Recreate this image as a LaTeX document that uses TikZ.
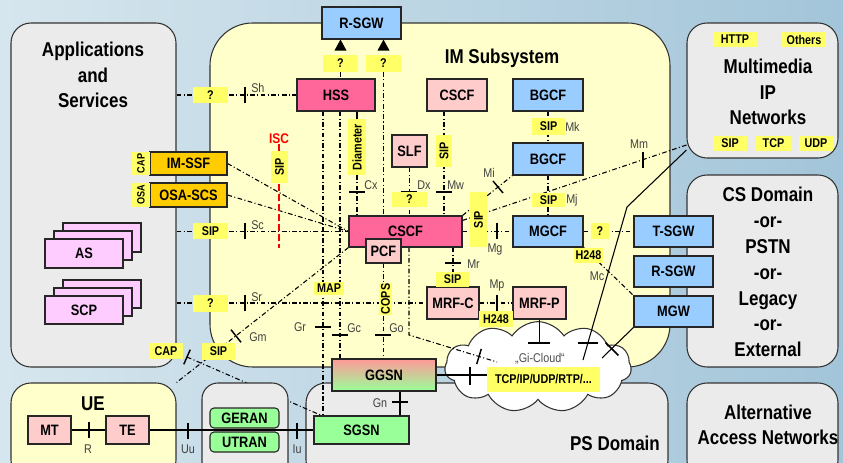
\documentclass[tikz,border=0pt]{standalone}
\usepackage{fontspec}
\usepackage{graphicx}
\setmainfont{Liberation Sans}[FakeStretch=0.85]
\usetikzlibrary{fit,calc,shapes.symbols}
\pgfdeclarelayer{bg}\pgfdeclarelayer{regions}\pgfdeclarelayer{lines}
\pgfsetlayers{bg,regions,lines,main}
\definecolor{bgL}{RGB}{214,230,238}
\definecolor{bgR}{RGB}{163,197,217}
\definecolor{regG}{RGB}{235,235,235}
\definecolor{imsY}{RGB}{255,255,204}
\definecolor{hotP}{RGB}{255,102,153}
\definecolor{lPink}{RGB}{255,204,204}
\definecolor{lBlue}{RGB}{153,204,255}
\definecolor{orng}{RGB}{255,204,0}
\definecolor{tagY}{RGB}{255,255,102}
\definecolor{asP}{RGB}{255,204,255}
\definecolor{grn}{RGB}{153,255,153}
\definecolor{ggT}{RGB}{255,153,153}
\definecolor{ggM}{RGB}{225,225,160}
\newcommand{\dgfbox}{\fontsize{11.3}{13}\selectfont\bfseries}
\newcommand{\dgftag}{\fontsize{9.5}{11}\selectfont\bfseries}
\newcommand{\dgfsmall}{\fontsize{8}{9}\selectfont\bfseries}
\newcommand{\dgftl}{\fontsize{9.5}{11}\selectfont}
\newcommand{\dgftitle}{\fontsize{15}{19}\selectfont\bfseries}
\tikzset{
  region/.style={draw=black!80, line width=0.8pt, rounded corners=15pt, inner sep=0pt, fill=regG},
  bx/.style args={#1/#2/#3/#4}{at={($(#1,#2)!0.5!(#3,#4)$)}, minimum width={(#3-#1)*0.75pt}, minimum height={(#4-#2)*0.75pt}},
  dgbox/.style={draw=black!85, line width=0.8pt, inner sep=0pt, font=\dgfbox},
  tag/.style={fill=tagY, inner sep=0pt, font=\dgftag},
  dd/.style={line width=0.8pt, dash pattern=on 3.5pt off 1.8pt on 0.8pt off 1.8pt},
  conn/.style={line width=0.8pt},
  tk/.style={line width=1.1pt},
  tl/.style={font=\dgftl, text=black!75, inner sep=0pt},
  rtitle/.style={font=\dgftitle, align=center, inner sep=0pt}
}
\begin{document}
\begin{tikzpicture}[x=0.75pt,y=-0.75pt]
\useasboundingbox (0,0) rectangle (843,463);
\begin{pgfonlayer}{bg}
\shade[left color=bgL, right color=bgR] (0,0) rectangle (843,463);
\end{pgfonlayer}
\begin{pgfonlayer}{regions}
\node[region, fit={(11,23) (176,367)}] (app) {};
\node[region, fill=imsY, rounded corners=32pt, fit={(210,23) (670,367)}] (ims) {};
\node[region, fit={(687,23) (838,158)}] (mmip) {};
\node[region, fit={(687,175) (838,367)}] (cs) {};
\node[region, fit={(687,383) (838,480)}] (alt) {};
\node[region, fit={(306,383) (668,480)}] (ps) {};
\node[region, fill=imsY, fit={(11,383) (176,480)}] (ue) {};
\node[cloud, cloud puffs=11, cloud puff arc=115, cloud ignores aspect, draw=black!80, line width=0.8pt, fill=white, minimum width=140pt, minimum height=68pt, inner sep=0pt] (cloud) at (538,367) {};
\end{pgfonlayer}

% region titles
\node[rtitle] at (93,75) {Applications\\and\\Services};
\node[rtitle] at (502,58) {IM Subsystem};
\node[rtitle] at (768,92) {Multimedia\\IP\\Networks};
\node[rtitle, font=\fontsize{15}{19.4}\selectfont\bfseries] at (768,272) {CS Domain\\-or-\\PSTN\\-or-\\Legacy\\-or-\\External};
\node[rtitle] at (768,425) {Alternative\\Access Networks};
\node[rtitle] at (615,443) {PS Domain};
\node[rtitle] at (93,404) {UE};

% boxes
\node[dgbox, fill=lBlue, bx=322/7/401/39] (rsgw1) {R-SGW};
\node[dgbox, fill=hotP, bx=297/79/375/111] (hss) {HSS};
\node[dgbox, fill=lPink, bx=427/79/487/111] (cscfT) {CSCF};
\node[dgbox, fill=lBlue, bx=513/79/583/111] (bgcf1) {BGCF};
\node[dgbox, fill=lBlue, bx=513/143/583/175] (bgcf2) {BGCF};
\node[dgbox, fill=lBlue, bx=513/216/583/247] (mgcf) {MGCF};
\node[dgbox, fill=lBlue, bx=634/216/713/247] (tsgw) {T-SGW};
\node[dgbox, fill=lBlue, bx=634/256/713/287] (rsgw2) {R-SGW};
\node[dgbox, fill=lBlue, bx=634/296/713/327] (mgw) {MGW};
\node[dgbox, fill=lPink, bx=392/135/427/167] (slf) {SLF};
\node[dgbox, fill=hotP, bx=349/216/462/247] (cscf) {CSCF};
\node[dgbox, fill=lPink, bx=366/239/401/263] (pcf) {PCF};
\node[dgbox, fill=lPink, bx=427/287/479/319] (mrfc) {MRF-C};
\node[dgbox, fill=lPink, bx=513/287/566/319] (mrfp) {MRF-P};
\node[dgbox, fill=orng, bx=150/152/227/175] (imssf) {IM-SSF};
\node[dgbox, fill=orng, bx=150/183/227/207] (osascs) {OSA-SCS};
\node[dgbox, fill=asP, bx=63/223/141/252] (as3) {};
\node[dgbox, fill=asP, bx=54/231/132/260] (as2) {};
\node[dgbox, fill=asP, bx=45/239/123/268] (as) {AS};
\node[dgbox, fill=asP, bx=63/280/141/308] (scp3) {};
\node[dgbox, fill=asP, bx=54/288/132/316] (scp2) {};
\node[dgbox, fill=asP, bx=45/296/123/324] (scp) {SCP};
\node[dgbox, fill=lPink, bx=28/416/71/444] (mt) {MT};
\node[dgbox, fill=lPink, bx=106/416/149/444] (te) {TE};
\node[dgbox, top color=ggT, middle color=ggM, bottom color=grn, bx=332/359/436/391] (ggsn) {GGSN};
\node[dgbox, fill=grn, bx=314/416/409/444] (sgsn) {SGSN};
\node[dgbox, fill=grn, rounded corners=3pt, bx=210/408/279/428] (geran) {GERAN};
\node[dgbox, fill=grn, rounded corners=3pt, bx=210/432/279/452] (utran) {UTRAN};

% tags
\node[tag, bx=193/87/228/103] (qsh) {?};
\node[tag, bx=323/55/358/72] (qH) {?};
\node[tag, bx=366/55/401/72] (qC) {?};
\node[tag, bx=348/119/366/175] (dia) {\rotatebox{90}{Diameter}};
\node[tag, bx=436/135/452/167] (sipT) {\rotatebox{90}{SIP}};
\node[tag, bx=271/151/288/183] (sipI) {\rotatebox{90}{SIP}};
\node[tag, bx=532/118/565/135] (sipMk) {SIP};
\node[tag, bx=532/193/565/207] (sipMj) {SIP};
\node[tag, bx=392/192/427/207] (qDx) {?};
\node[tag, bx=470/192/487/247] (sipMi) {\rotatebox{90}{SIP}};
\node[tag, font=\dgfsmall, bx=132/152/150/175] (capL) {\rotatebox{90}{CAP}};
\node[tag, font=\dgfsmall, bx=132/183/150/207] (osaL) {\rotatebox{90}{OSA}};
\node[tag, bx=193/223/228/239] (sipSc) {SIP};
\node[tag, bx=193/295/228/312] (qSr) {?};
\node[tag, bx=591/223/609/239] (qMG) {?};
\node[tag, bx=574/248/603/263] (h248c) {H248};
\node[tag, bx=436/272/469/287] (sipMr) {SIP};
\node[tag, bx=479/311/513/327] (h248p) {H248};
\node[tag, bx=314/282/344/295] (map) {MAP};
\node[tag, bx=379/283/392/315] (cops) {\rotatebox{90}{COPS}};
\node[tag, bx=487/367/600/392] (tcp) {TCP/IP/UDP/RTP/...};
\node[tag, bx=149/343/183/359] (capT) {CAP};
\node[tag, bx=202/343/235/360] (sipGm) {SIP};
\node[tag, bx=713/32/757/47] (http) {HTTP};
\node[tag, bx=782/32/826/47] (others) {Others};
\node[tag, bx=713/136/747/151] (sipN) {SIP};
\node[tag, bx=756/136/791/151] (tcpN) {TCP};
\node[tag, bx=799/136/833/151] (udpN) {UDP};

% labels
\node[font=\fontsize{10.5}{12}\selectfont\bfseries, text=red, inner sep=0pt] (iscl) at (279,139) {ISC};
\node[tl, text=black!70] at (540,359) {„Gi-Cloud“};
\node[tl, anchor=west] at (251,88) {Sh};
\node[tl, anchor=west] at (251,225) {Sc};
\node[tl, anchor=west] at (251,297) {Sr};
\node[tl, anchor=west] at (364,185) {Cx};
\node[tl, anchor=west] at (417,185) {Dx};
\node[tl, anchor=west] at (447,185) {Mw};
\node[tl, anchor=west] at (565,127) {Mk};
\node[tl, anchor=west] at (566,200) {Mj};
\node[tl] at (489,173) {Mi};
\node[tl] at (639,144) {Mm};
\node[tl] at (495,249) {Mg};
\node[tl, anchor=west] at (467,264) {Mr};
\node[tl] at (497,285) {Mp};
\node[tl] at (597,276) {Mc};
\node[tl, anchor=west] at (249,337) {Gm};
\node[tl] at (300,327) {Gr};
\node[tl, anchor=west] at (347,328) {Gc};
\node[tl, anchor=west] at (389,328) {Go};
\node[tl] at (380,403) {Gn};
\node[tl] at (88,449) {R};
\node[tl] at (188,449) {Uu};
\node[tl] at (297,449) {Iu};

\begin{pgfonlayer}{lines}
\coordinate (xgr) at (323,0);
\coordinate (xgc) at (340,0);
\coordinate (xdia) at (357,0);
\coordinate (xmw) at (444,0);
\coordinate (xmr) at (453,0);
\coordinate (xmb) at (409,0);
\coordinate (xgn) at (400,0);
\coordinate (capend) at (187,357);
\draw[dd] (app.east |- hss.west) -- (hss.west);
\draw[dd] (app.east |- cscf.west) -- (cscf.west);
\draw[dd] (app.east |- mrfc.west) -- (mrfc.west);
\draw[dd] (imssf.east) -- (cscf.west);
\draw[dd] (osascs.east) -- (cscf.west);
\draw[red, line width=0.9pt, dash pattern=on 5pt off 2.5pt] (iscl.south) -- (iscl.south |- cscf.south);
\draw[dd] (xgr |- hss.south) -- (xgr |- sgsn.north);
\draw[dd] (xgc |- hss.south) -- (xgc |- ggsn.north);
\draw[conn] (xdia |- hss.south) -- (dia.north);
\draw[dd] (dia.south) -- (xdia |- cscf.north);
\draw[dd] (qH.south) -- (qH.south |- hss.north);
\fill (qH.north |- rsgw1.south) -- +(-6,11) -- +(6,11) -- cycle;
\draw[dd] (qC.south) -- (qC.south |- cscf.north);
\fill (qC.north |- rsgw1.south) -- +(-6,11) -- +(6,11) -- cycle;
\draw[dd] (slf.south) -- (slf.south |- cscf.north);
\draw[dd] (xmw |- cscfT.south) -- (xmw |- cscf.north);
\draw[dd] (bgcf1.south) -- (bgcf2.north);
\draw[dd] (bgcf2.south) -- (mgcf.north);
\draw[dd] (cscf.east) -- (mgcf.west);
\draw[dd] (mgcf.east) -- (tsgw.west);
\draw[dd] (mgcf.south east) -- (mgw.north west);
\draw[dd] (xmr |- cscf.south) -- (xmr |- mrfc.north);
\draw[dd] (mrfc.east) -- (mrfp.west);
\draw[conn] (mrfp.south) -- (mrfp.south |- 0,343);
\draw[dd] (pcf.south) -- (pcf.south |- ggsn.north);
\draw[dd] (xmb |- cscf.south) -- (409,335) -- (497,362);
\draw[conn] (ggsn.east) -- (ggsn.east -| tcp.west);
\draw[conn] (xgn |- ggsn.south) -- (xgn |- sgsn.north);
\draw[conn] (mt.east) -- (te.west);
\draw[dd] (cscf.south west) -- (ue.north east);
\draw[dd] (cscf.north east) -- (bgcf2.south west);
\draw[dd] ($(cscf.north east)+(0,5)$) -- (mmip.west |- 0,145);
\draw[conn] (mmip.west |- 0,150) -- (627,207) -- (583,360);
\draw[conn] (mgw.south west) -- (602,358);
\draw[dd] (capend) -- ($(sgsn.north west)+(8,0)$);
% ticks
\draw[tk] (245,87) -- (245,103);
\draw[tk] (245,223) -- (245,239);
\draw[tk] (245,295) -- (245,311);
\draw[tk] (349,192) -- (365,192);
\draw[tk] (401,192) -- (417,192);
\draw[tk] (436,192) -- (452,192);
\draw[tk] (493,181) -- (503,193);
\draw[tk] (643,152) -- (643,168);
\draw[tk] (497,223) -- (497,239);
\draw[tk] (445,263) -- (461,263);
\draw[tk] (497,295) -- (497,311);
\draw[tk] (528,343) -- (550,343);
\draw[tk] (578,343) -- (598,343);
\draw[tk] (605.6,342.6) -- (618.4,355.4);
\draw[tk] (481.3,348.9) -- (476.7,364.1);
\draw[tk] (470,367) -- (470,385);
\draw[tk] (231,329.7) -- (241,342.3);
\draw[tk] (183.8,364.3) -- (190.2,349.7);
\draw[tk] (315,327) -- (331,327);
\draw[tk] (332,335) -- (348,335);
\draw[tk] (375,335) -- (391,335);
\draw[tk] (392,402) -- (408,402);
\draw[tk] (89,422) -- (89,438);
% RAN region above the CAP line, below the Iu line
\node[region, rounded corners=12pt, fit={(202,383) (288,480)}] (ran) {};
\draw[conn] (te.east) -- (sgsn.west);
\draw[tk] (188,423) -- (188,439);
\draw[tk] (297,423) -- (297,439);
\end{pgfonlayer}
\end{tikzpicture}
\end{document}
